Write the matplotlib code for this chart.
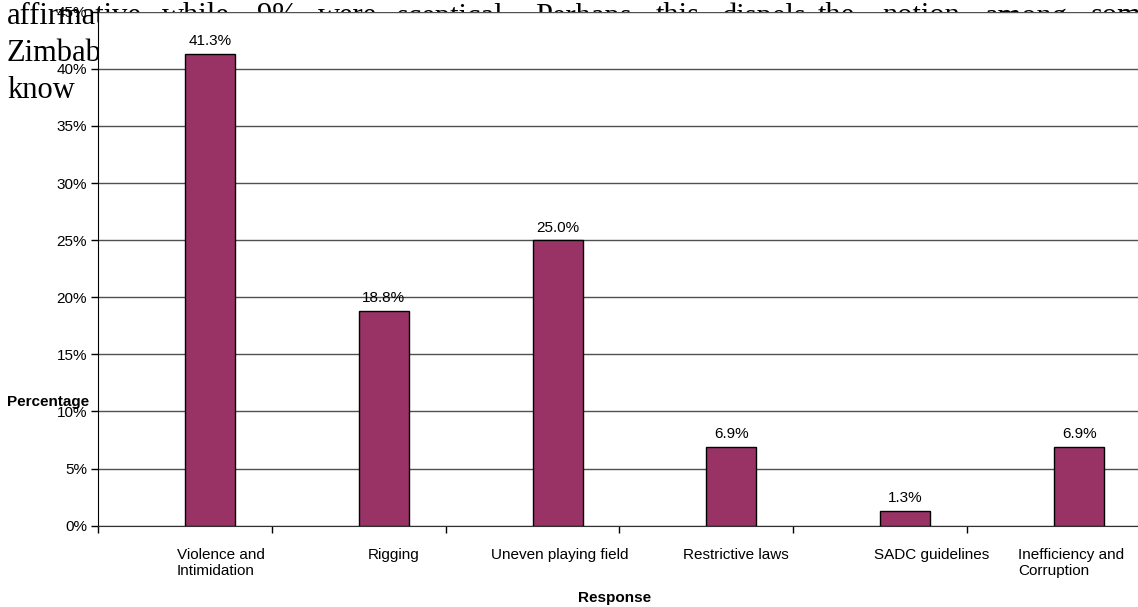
import matplotlib.pyplot as plt
from matplotlib.transforms import ScaledTranslation
import numpy as np

# survey responses (percent)
categories = ["Violence and\nIntimidation", "Rigging", "Uneven playing field",
              "Restrictive laws", "SADC guidelines", "Inefficiency and\nCorruption"]
values = [41.3, 18.8, 25.0, 6.9, 1.3, 6.9]
yticks = [0, 5, 10, 15, 20, 25, 30, 35, 40, 45]

# bits of the surrounding document text that show behind the chart
doc_words = ["affirmative", "while", "9%", "were", "sceptical.", "Perhaps",
             "this", "dispels", "the", "notion", "among", "some"]
doc_word_x = [7, 162, 257, 318, 397, 535, 656, 722, 818, 882, 985, 1091]

W, H = 1138, 607
fig = plt.figure(figsize=(W / 100, H / 100), dpi=100)
plt.rcParams['font.family'] = ['Liberation Sans', 'DejaVu Sans']

serif = dict(family='Liberation Serif', fontsize=22, va='baseline', zorder=-1)
for w, x in zip(doc_words, doc_word_x):
    fig.text(x / W, 1 - 24.5 / H, w, **serif)
fig.text(7 / W, 1 - 61 / H, "Zimbabweans", **serif)
fig.text(7 / W, 1 - 98 / H, "know", **serif)

left, right = 98, 1141
bottom, top = 525.7, 11.7
ax = fig.add_axes([left / W, 1 - bottom / H, (right - left) / W, (bottom - top) / H])
ax.set_facecolor('white')

x = np.arange(len(values))
shift = 0.144
ax.bar(x + shift, values, width=0.288, color='#993366', edgecolor='black',
       linewidth=1, zorder=3)
for xi, v in zip(x, values):
    ax.annotate(f"{v:.1f}%", (xi + shift, v), xytext=(0, 4), textcoords='offset points',
                ha='center', va='bottom', fontsize=11)

ax.set_xlim(-0.5, 5.5)
ax.set_ylim(0, 45)
ax.set_yticks(yticks)
ax.set_yticklabels([f"{t}%" for t in yticks])
ax.yaxis.grid(True, color='#505050', linewidth=1)
ax.set_axisbelow(True)

ax.set_xticks(x + shift)
ax.set_xticklabels(categories, fontsize=11, multialignment='left')
ax.set_xticks(np.arange(-0.5, 6.0, 1.0), minor=True)
ax.tick_params(axis='x', which='major', length=0, pad=16)
ax.tick_params(axis='x', which='minor', length=5, width=1, direction='out')
ax.tick_params(axis='y', length=5, width=1, direction='out', pad=3, labelsize=11)

label_dx = [11, 10, 2, 4, 26, -8]
for lab, dx in zip(ax.get_xticklabels(), label_dx):
    lab.set_transform(lab.get_transform() + ScaledTranslation(dx / 100, 0, fig.dpi_scale_trans))

for s in ['top', 'right']:
    ax.spines[s].set_visible(False)
ax.spines['left'].set_color('black')
ax.spines['bottom'].set_color('#303030')

ax.set_ylabel("Percentage", rotation=0, fontweight='bold', fontsize=11, ha='left', va='center')
ax.yaxis.set_label_coords((7 - left) / (right - left), (bottom - 402) / (bottom - top))
ax.set_xlabel("Response", fontweight='bold', fontsize=11, va='center')
ax.xaxis.set_label_coords((615 - left) / (right - left), (bottom - 598) / (bottom - top))

fig.savefig("out.png", dpi=100)
